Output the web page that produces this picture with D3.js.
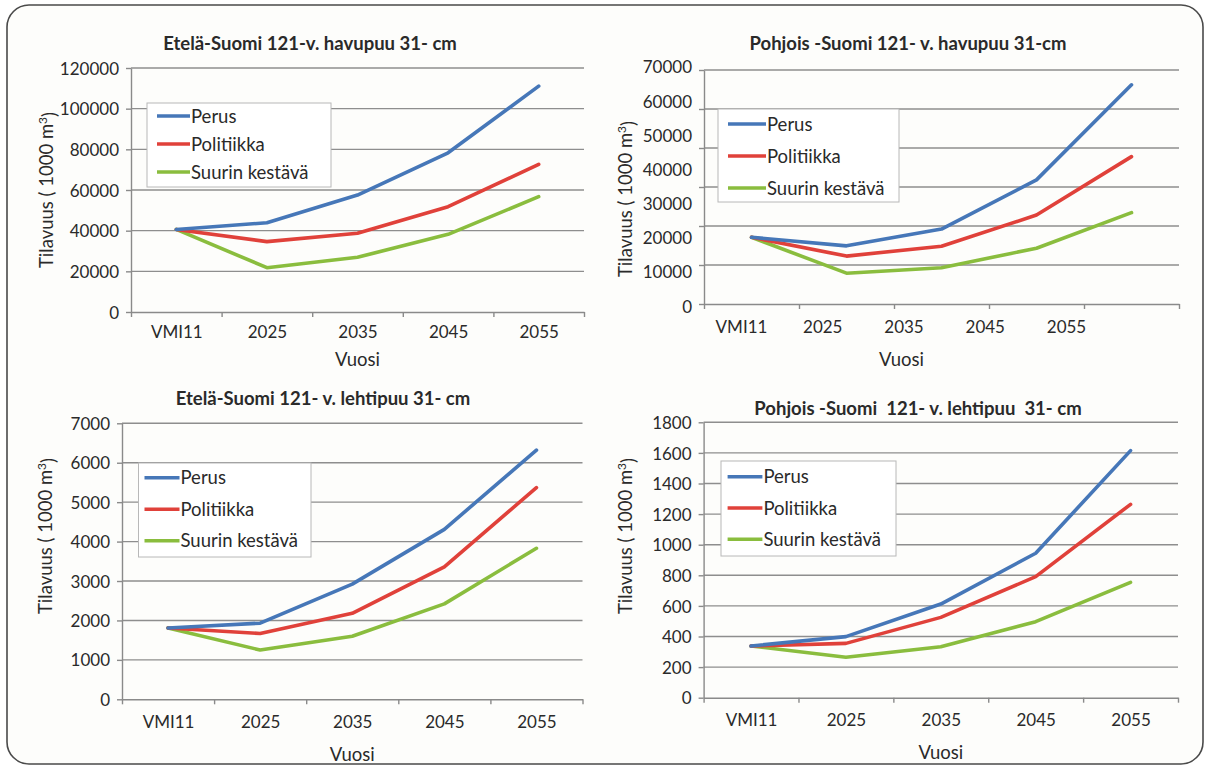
<!DOCTYPE html>
<html>
<head>
<meta charset="utf-8">
<script src="https://cdn.jsdelivr.net/npm/d3@7"></script>
<style>
  body { margin: 0; background: #ffffff; }
  svg text { font-family: Lato, "Open Sans", sans-serif; fill: #2a2a2a; }
</style>
</head>
<body>
<div id="chart"></div>
<script>
// categories and series
var years = ["VMI11", "2025", "2035", "2045", "2055"];
var seriesNames = ["Perus", "Politiikka", "Suurin kestävä"];
var seriesColors = ["#4677b8", "#e0413a", "#8abd3e"];

// values, one row per series (Perus, Politiikka, Suurin kestävä)
var etelaHavu = [
  [40600, 43900, 57500, 78300, 111100],
  [40600, 34600, 38700, 51800, 72600],
  [40600, 21800, 26900, 38200, 56700]
];
var pohjoisHavu = [
  [20100, 17600, 22500, 36900, 64700],
  [20100, 14600, 17500, 26600, 43700],
  [20100, 9600, 11200, 16900, 27300]
];
var etelaLehti = [
  [1810, 1930, 2920, 4310, 6320],
  [1810, 1670, 2180, 3360, 5370],
  [1810, 1250, 1600, 2420, 3830]
];
var pohjoisLehti = [
  [338, 399, 612, 944, 1615],
  [338, 355, 525, 791, 1264],
  [338, 264, 333, 497, 754]
];

// y ticks
var etelaHavuTicks = [0, 20000, 40000, 60000, 80000, 100000, 120000];
var pohjoisHavuTicks = [0, 10000, 20000, 30000, 40000, 50000, 60000, 70000];
var etelaLehtiTicks = [0, 1000, 2000, 3000, 4000, 5000, 6000, 7000];
var pohjoisLehtiTicks = [0, 200, 400, 600, 800, 1000, 1200, 1400, 1600, 1800];

var titles = [
  "Etelä-Suomi 121-v. havupuu 31- cm",
  "Pohjois -Suomi 121- v. havupuu 31-cm",
  "Etelä-Suomi 121- v. lehtipuu 31- cm",
  "Pohjois -Suomi  121- v. lehtipuu  31- cm"
];

var W = 1206, H = 765;

var svg = d3.select("#chart").append("svg")
    .attr("width", W)
    .attr("height", H);

// outer rounded frame
svg.append("rect")
  .attr("x", 7).attr("y", 5)
  .attr("width", 1196).attr("height", 759)
  .attr("rx", 22).attr("ry", 22)
  .attr("fill", "#fdfdfb")
  .attr("stroke", "#4a4a4a")
  .attr("stroke-width", 1.6);

var panels = [
  {data: etelaHavu, ticks: etelaHavuTicks, title: titles[0],
   x0: 131, x1: 584, yTop: 68, yBot: 312, titleX: 310, titleY: 50,
   xLabelDy: 20, vuosiY: 366, yTitleX: 46, yTitleY: 190,
   legend: {x: 147, y: 103, w: 184, h: 84, row0: 13, rowH: 28, lx0: 10, lx1: 43}},
  {data: pohjoisHavu, ticks: pohjoisHavuTicks, title: titles[1],
   x0: 704, x1: 1179, yTop: 66.7, yBot: 306, gridTop: 70, gridBot: 304, gridN: 6,
   labelRange: [741, 1066],
   titleX: 908, titleY: 50,
   xLabelDy: 23, vuosiY: 366, yTitleX: 625, yTitleY: 199,
   legend: {x: 718, y: 109, w: 181, h: 93, row0: 15, rowH: 32, lx0: 10, lx1: 48}},
  {data: etelaLehti, ticks: etelaLehtiTicks, title: titles[2],
   x0: 122, x1: 582.5, yTop: 423.3, yBot: 699.3, titleX: 323, titleY: 405,
   xLabelDy: 22.5, vuosiY: 761, yTitleX: 45, yTitleY: 536,
   legend: {x: 138.5, y: 463, w: 172.5, h: 94, row0: 14.7, rowH: 31.5, lx0: 6, lx1: 41}},
  {data: pohjoisLehti, ticks: pohjoisLehtiTicks, title: titles[3],
   x0: 703.6, x1: 1178, yTop: 422.3, yBot: 697.7, titleX: 918, titleY: 415,
   xLabelDy: 22.5, vuosiY: 759, yTitleX: 625, yTitleY: 536,
   legend: {x: 721, y: 461, w: 175, h: 95, row0: 15.7, rowH: 31.3, lx0: 6.6, lx1: 41.4}}
];

panels.forEach(function(p) { drawPanel(p); });

function drawPanel(p) {
  var g = svg.append("g");
  var yMax = p.ticks[p.ticks.length - 1];

  var x = d3.scaleBand().domain(years).range([p.x0, p.x1]);
  var y = d3.scaleLinear().domain([0, yMax]).range([p.yBot, p.yTop]);

  // gridlines normally sit on the labels; in one panel they do not
  var gridScale, gridValues;
  if (p.gridN) {
    gridScale = d3.scaleLinear().domain([0, p.gridN]).range([p.gridBot, p.gridTop]);
    gridValues = d3.range(0, p.gridN + 1);
  } else {
    gridScale = y;
    gridValues = p.ticks;
  }
  var axisY = gridScale(0);

  // gridlines
  g.selectAll(".grid")
    .data(gridValues.slice(1))
    .enter().append("line")
    .attr("x1", p.x0).attr("x2", p.x1)
    .attr("y1", function(d) { return gridScale(d); })
    .attr("y2", function(d) { return gridScale(d); })
    .attr("stroke", "#8e8e8e")
    .attr("stroke-width", 1.4);

  // y axis line and tick marks
  var yAxisG = g.append("g")
    .attr("transform", "translate(" + p.x0 + ",0)")
    .call(d3.axisLeft(gridScale).tickValues(gridValues).tickSize(5).tickSizeOuter(0).tickFormat(""));
  yAxisG.selectAll("line, path").attr("stroke", "#8a8a8a").attr("stroke-width", 1.4);

  // y tick labels
  var yLab = g.append("g")
    .attr("transform", "translate(" + (p.x0 - 9) + ",0)")
    .call(d3.axisLeft(y).tickValues(p.ticks).tickSize(0).tickFormat(d3.format("d")));
  yLab.select(".domain").remove();
  yLab.selectAll("text")
    .style("font-size", "17px")
    .attr("dy", "0.36em");

  // x axis line with ticks on the category boundaries
  var bounds = d3.scaleLinear().domain([0, years.length]).range([p.x0, p.x1]);
  var xAxisG = g.append("g")
    .attr("transform", "translate(0," + axisY + ")")
    .call(d3.axisBottom(bounds).tickValues(d3.range(0, years.length + 1)).tickSize(5).tickSizeOuter(0).tickFormat(""));
  xAxisG.selectAll("line, path").attr("stroke", "#8a8a8a").attr("stroke-width", 1.4);

  // x tick labels
  var labelScale = d3.scalePoint().domain(years)
    .range(p.labelRange || [p.x0 + x.bandwidth() / 2, p.x1 - x.bandwidth() / 2]);
  var xLab = g.append("g")
    .attr("transform", "translate(0," + (axisY + p.xLabelDy) + ")")
    .call(d3.axisBottom(labelScale).tickSize(0));
  xLab.select(".domain").remove();
  xLab.selectAll("text")
    .style("font-size", "17px")
    .attr("y", 0).attr("dy", "0.36em");

  // axis titles
  g.append("text")
    .attr("x", (p.x0 + p.x1) / 2 - (p.labelRange ? 40 : 0))
    .attr("y", p.vuosiY)
    .attr("text-anchor", "middle")
    .style("font-size", "18.5px")
    .text("Vuosi");

  var yt = g.append("text")
    .attr("transform", "translate(" + p.yTitleX + "," + p.yTitleY + ") rotate(-90)")
    .attr("text-anchor", "middle")
    .attr("dy", "0.36em")
    .style("font-size", "18.5px");
  yt.append("tspan").text("Tilavuus ( 1000 m");
  yt.append("tspan").attr("dy", "-0.45em").style("font-size", "12px").text("3");
  yt.append("tspan").attr("dy", "0.45em").text(")");

  // chart title
  g.append("text")
    .attr("x", p.titleX)
    .attr("y", p.titleY)
    .attr("text-anchor", "middle")
    .style("font-size", "18.5px")
    .style("font-weight", "bold")
    .style("white-space", "pre")
    .text(p.title);

  // series lines
  var line = d3.line()
    .x(function(d, i) { return x(years[i]) + x.bandwidth() / 2; })
    .y(function(d) { return y(d); });

  // draw green first so blue sits on top
  var order = [2, 1, 0];
  order.forEach(function(s) {
    g.append("path")
      .datum(p.data[s])
      .attr("d", line)
      .attr("fill", "none")
      .attr("stroke", seriesColors[s])
      .attr("stroke-width", 3.6)
      .attr("stroke-linejoin", "round")
      .attr("stroke-linecap", "round");
  });

  // legend
  var L = p.legend;
  var lg = g.append("g").attr("transform", "translate(" + L.x + "," + L.y + ")");
  lg.append("rect")
    .attr("width", L.w).attr("height", L.h)
    .attr("fill", "#ffffff")
    .attr("stroke", "#b8b8b8")
    .attr("stroke-width", 1);
  seriesNames.forEach(function(name, i) {
    var ry = L.row0 + i * L.rowH;
    lg.append("line")
      .attr("x1", L.lx0).attr("x2", L.lx1)
      .attr("y1", ry).attr("y2", ry)
      .attr("stroke", seriesColors[i])
      .attr("stroke-width", 3.6);
    lg.append("text")
      .attr("x", L.lx1 + 1)
      .attr("y", ry)
      .attr("dy", "0.36em")
      .style("font-size", "18.5px")
      .text(name);
  });
}
</script>
</body>
</html>
